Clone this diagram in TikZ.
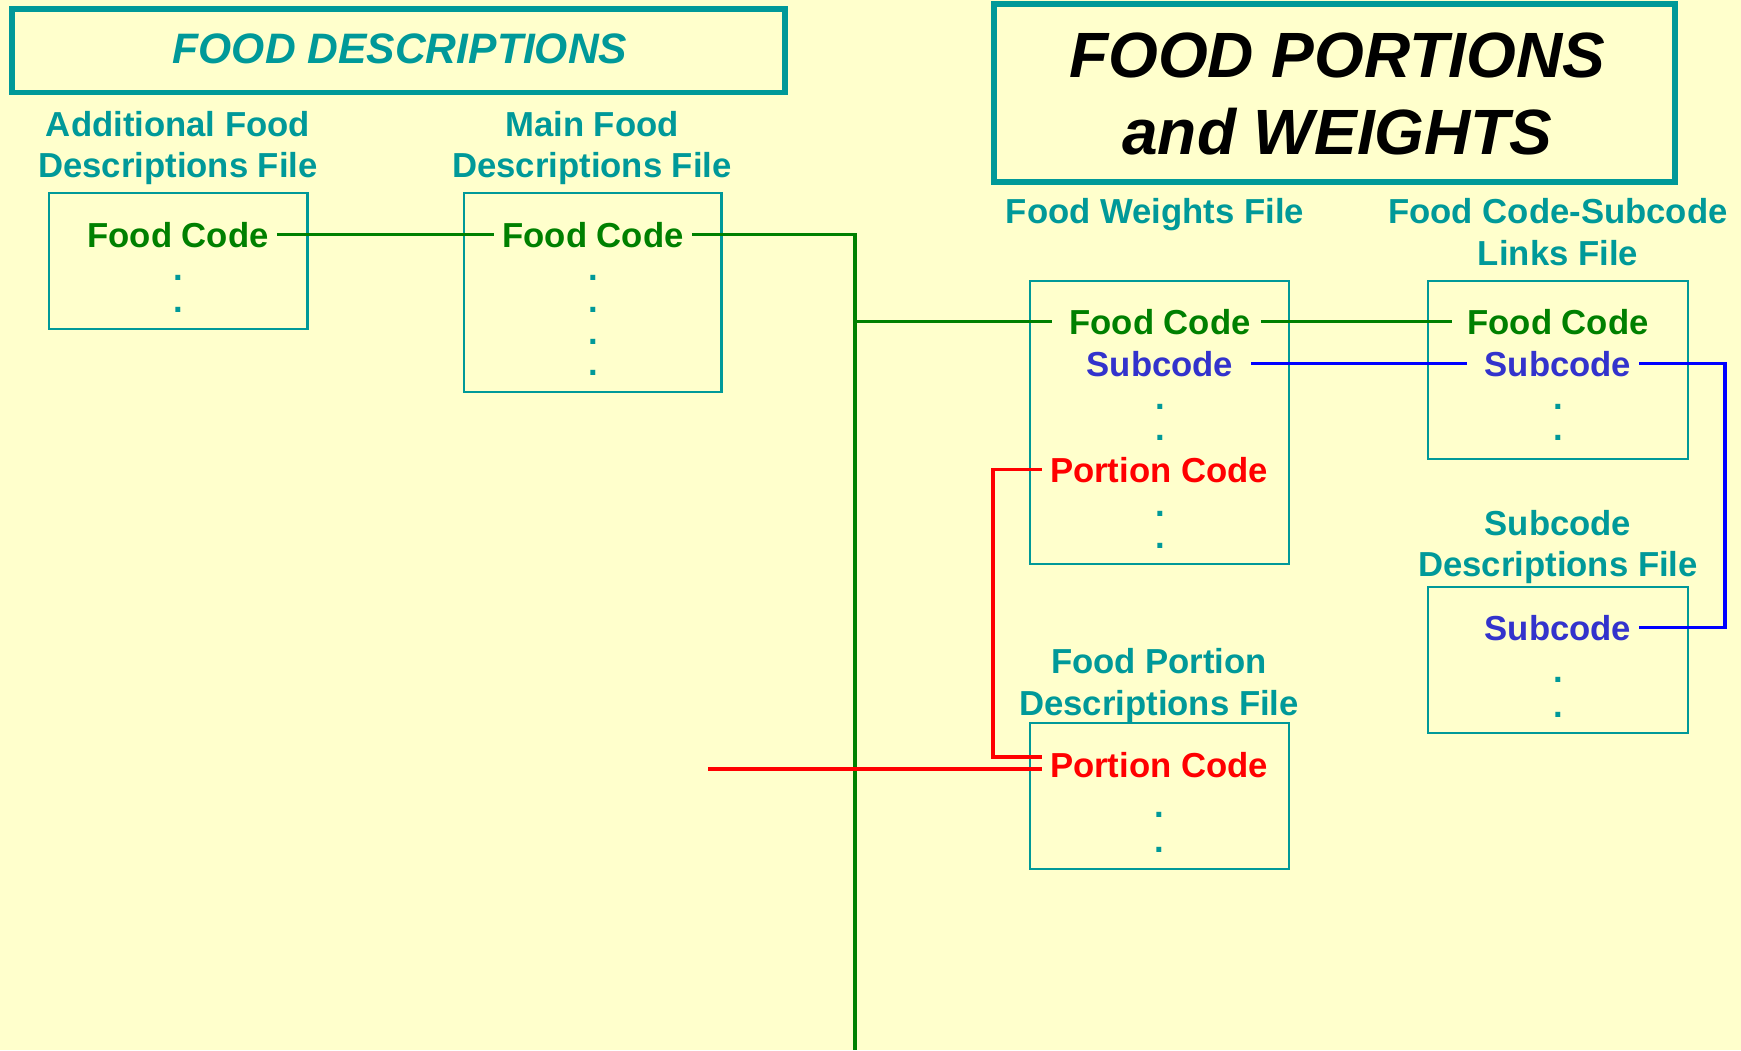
\documentclass[tikz,border=0pt]{standalone}
\usepackage{fontspec}
\setmainfont{Liberation Sans}
\definecolor{bgc}{HTML}{FFFFCC}
\definecolor{tealc}{HTML}{009999}
\definecolor{grnc}{HTML}{008000}
\definecolor{subc}{HTML}{3333CC}
\definecolor{blnc}{HTML}{0000FF}
\definecolor{rdc}{HTML}{FF0000}
\begin{document}
\begin{tikzpicture}[x=1pt,y=-1pt,
  lbl/.style={text=tealc, font=\bfseries\fontsize{34.7}{41}\selectfont, anchor=base, inner sep=0pt},
  fld/.style={font=\bfseries\fontsize{34.7}{41}\selectfont, anchor=base, inner xsep=8pt, inner ysep=0pt},
  fcode/.style={fld, text=grnc},
  scode/.style={fld, text=subc},
  pcode/.style={fld, text=rdc},
  dotn/.style={text=tealc, font=\bfseries\fontsize{34.7}{41}\selectfont, inner sep=0pt},
  filebox/.style={draw=tealc, line width=2.5pt, inner sep=0pt},
  titlebox/.style={draw=tealc, line width=5.5pt, inner sep=0pt},
  gline/.style={draw=grnc, line width=3.3pt},
  bline/.style={draw=blnc, line width=3.3pt},
  rline/.style={draw=rdc, line width=3.3pt},
]
\useasboundingbox (0,0) rectangle (1741,1050);
\fill[bgc] (0,0) rectangle (1741,1050);

% title boxes
\node[titlebox, minimum width=773pt, minimum height=83.5pt] (fdbox) at (398.5,50.75) {};
\node[text=tealc, font=\bfseries\itshape\fontsize{42.6}{50}\selectfont, anchor=base, inner sep=0pt] (fdtitle) at (400,63) {FOOD DESCRIPTIONS};
\node[titlebox, line width=6pt, minimum width=681pt, minimum height=177.5pt] (fpbox) at (1334.5,92.75) {};
\node[text=black, font=\bfseries\itshape\fontsize{64}{77}\selectfont, anchor=base, inner sep=0pt] (fptitle1) at (1337,77) {FOOD PORTIONS};
\node[text=black, font=\bfseries\itshape\fontsize{64}{77}\selectfont, anchor=base, inner sep=0pt] (fptitle2) at (1337.5,154) {and WEIGHTS};

% file boxes
\node[filebox, minimum width=258.5pt, minimum height=136pt] (afbox) at (178.25,261) {};
\node[filebox, minimum width=257.5pt, minimum height=199pt] (mfbox) at (592.75,292.5) {};
\node[filebox, minimum width=259pt, minimum height=283pt] (fwbox) at (1159.5,422.5) {};
\node[filebox, minimum width=260pt, minimum height=178pt] (lkbox) at (1558,370) {};
\node[filebox, minimum width=260pt, minimum height=146pt] (sdbox) at (1558,660) {};
\node[filebox, minimum width=259pt, minimum height=146pt] (fpdbox) at (1159.5,796) {};

% labels
\node[lbl] (aflbl1) at (178,136) {Additional Food};
\node[lbl] (aflbl2) at (178,177) {Descriptions File};
\node[lbl] (mflbl1) at (592,136) {Main Food};
\node[lbl] (mflbl2) at (592,177) {Descriptions File};
\node[lbl] (fwlbl) at (1155,223) {Food Weights File};
\node[lbl] (lklbl1) at (1558,223) {Food Code-Subcode};
\node[lbl] (lklbl2) at (1558,265) {Links File};
\node[lbl] (sdlbl1) at (1558,535) {Subcode};
\node[lbl] (sdlbl2) at (1558,576) {Descriptions File};
\node[lbl] (fplbl1) at (1159,673) {Food Portion};
\node[lbl] (fplbl2) at (1159,715) {Descriptions File};

% fields
\node[fcode] (affc) at (178,247) {Food Code};
\node[fcode] (mffc) at (593,247) {Food Code};
\node[fcode] (fwfc) at (1160,334) {Food Code};
\node[scode] (fwsc) at (1160,376) {Subcode};
\node[pcode] (fwpc) at (1159,482) {Portion Code};
\node[fcode] (lkfc) at (1558,334) {Food Code};
\node[scode] (lksc) at (1558,376) {Subcode};
\node[scode] (sdsc) at (1558,640) {Subcode};
\node[pcode] (fppc) at (1159,777) {Portion Code};

% dots
\node[dotn] (afd1) at (178,278) {.};
\node[dotn] (afd2) at (178,310) {.};
\node[dotn] (mfd1) at (593,278) {.};
\node[dotn] (mfd2) at (593,310) {.};
\node[dotn] (mfd3) at (593,342) {.};
\node[dotn] (mfd4) at (593,373) {.};
\node[dotn] (fwd1) at (1160,407) {.};
\node[dotn] (fwd2) at (1160,438) {.};
\node[dotn] (fwd3) at (1160,514) {.};
\node[dotn] (fwd4) at (1160,546) {.};
\node[dotn] (lkd1) at (1558,407) {.};
\node[dotn] (lkd2) at (1558,438) {.};
\node[dotn] (sdd1) at (1558,680) {.};
\node[dotn] (sdd2) at (1558,715) {.};
\node[dotn] (fpd1) at (1159,815) {.};
\node[dotn] (fpd2) at (1159,850) {.};

% coordinates for free ends / corners
\coordinate (gbot) at (855,1050);
\coordinate (bx) at (1725,500);
\coordinate (rx) at (993,600);
\coordinate (rl) at (708,769);

% green connectors
\draw[gline] (affc.east) -- (mffc.west);
\draw[gline] (mffc.east) -| (gbot);
\draw[gline] (gbot |- fwfc.west) -- ([xshift=-9pt]fwfc.west);
\draw[gline] ([xshift=2pt]fwfc.east) -- ([xshift=-7pt]lkfc.west);

% blue connectors
\draw[bline] ([xshift=10pt]fwsc.east) -- ([xshift=-10pt]lksc.west);
\draw[bline] (lksc.east) -| (bx) |- (sdsc.east);

% red connectors
\draw[rline] (fwpc.west) -| (rx) |- ([yshift=7.5pt]fppc.west);
\draw[rline] (rl) -- (rl -| fppc.west);
\end{tikzpicture}
\end{document}
